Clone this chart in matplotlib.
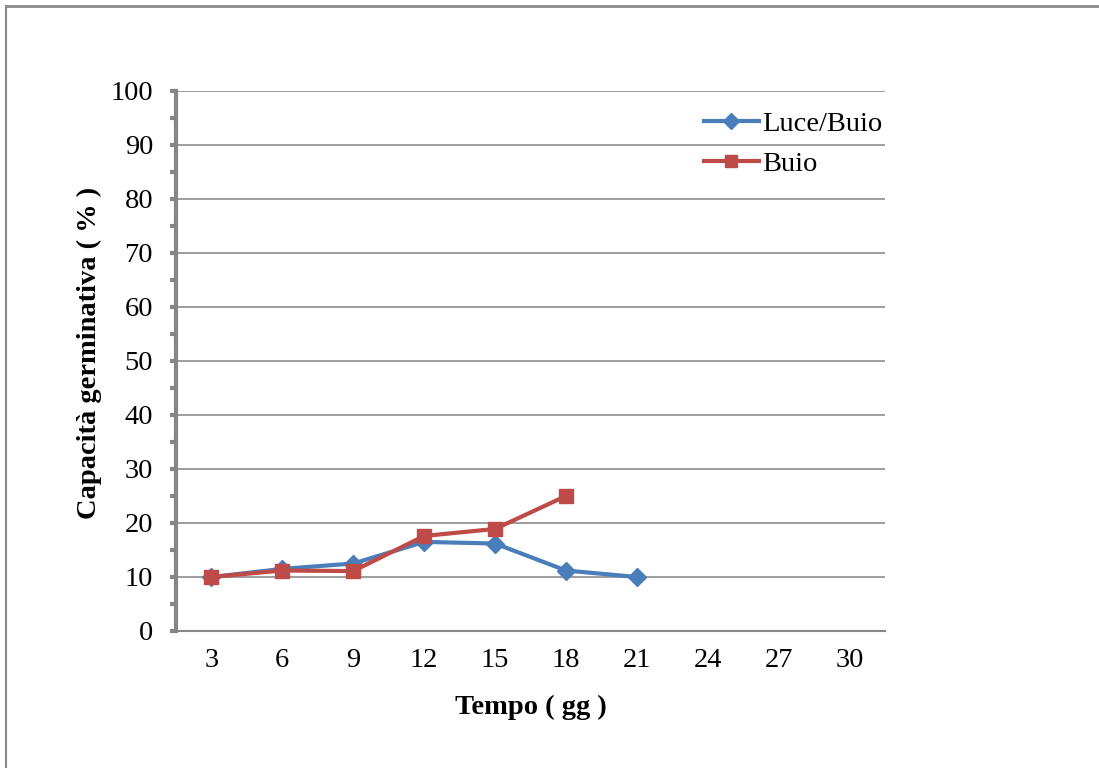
import matplotlib
matplotlib.use("Agg")
import matplotlib.pyplot as plt
from matplotlib.lines import Line2D
from matplotlib.ticker import MultipleLocator

categories = ["3", "6", "9", "12", "15", "18", "21", "24", "27", "30"]
luce_buio = [10, 11.5, 12.5, 16.5, 16.2, 11.2, 10]
buio = [10, 11.2, 11.1, 17.6, 18.9, 25]
series_names = ["Luce/Buio", "Buio"]
y_ticks = list(range(0, 101, 10))

plt.rcParams['font.family'] = ['Liberation Serif', 'DejaVu Serif']

W, H = 1099, 768
fig = plt.figure(figsize=(W / 100, H / 100), dpi=100)
ax = fig.add_axes([176 / W, 1 - 631 / H, (885 - 176) / W, (631 - 91) / H])

x_idx = list(range(len(categories)))
blue = "#4a7ebb"
red = "#be4b48"
FS = 20.5
ax.plot(x_idx[:len(luce_buio)], luce_buio, color=blue, lw=3, marker="D",
        markersize=9, label=series_names[0], zorder=3)
ax.plot(x_idx[:len(buio)], buio, color=red, lw=3, marker="s",
        markersize=10, label=series_names[1], zorder=4)

ax.set_xlim(-0.5, len(categories) - 0.5)
ax.set_ylim(0, 100)
ax.set_xticks(x_idx)
ax.set_xticklabels(categories)
ax.set_yticks(y_ticks)
ax.yaxis.set_minor_locator(MultipleLocator(5))
ax.grid(axis="y", color="#8c8c8c", lw=1.2)
ax.set_axisbelow(True)

for s in ["top", "right"]:
    ax.spines[s].set_visible(False)
ax.spines["left"].set_color("#868686")
ax.spines["left"].set_linewidth(3)
ax.spines["bottom"].set_color("#868686")
ax.spines["bottom"].set_linewidth(1.5)

ax.tick_params(axis="y", which="both", direction="out", length=4.5, width=3,
               color="#868686", labelsize=FS, pad=12)
ax.tick_params(axis="x", length=0, labelsize=FS, pad=12)

ax.set_xlabel("Tempo ( gg )", fontsize=FS, fontweight="bold", labelpad=16)
ax.set_ylabel("Capacità germinativa ( % )", fontsize=FS, fontweight="bold", labelpad=6)
ax.yaxis.label.set_y(0.515)

handles = [Line2D([], [], color=blue, lw=3, marker="D", markersize=8),
           Line2D([], [], color=red, lw=3, marker="s", markersize=9)]
ax.legend(handles, series_names, loc="upper left", bbox_to_anchor=(0.72, 0.995),
          frameon=False, fontsize=FS, handlelength=1.95, handletextpad=0.1,
          labelspacing=0.5, borderaxespad=0.2)

# outer frame (partially visible)
fig.add_artist(Line2D([6 / W, 1], [1 - 6 / H, 1 - 6 / H], transform=fig.transFigure,
                      color="#8a8a8a", lw=2))
fig.add_artist(Line2D([6 / W, 6 / W], [0, 1 - 6 / H], transform=fig.transFigure,
                      color="#8a8a8a", lw=1.5))

fig.savefig("out.png", dpi=100, facecolor="white")
